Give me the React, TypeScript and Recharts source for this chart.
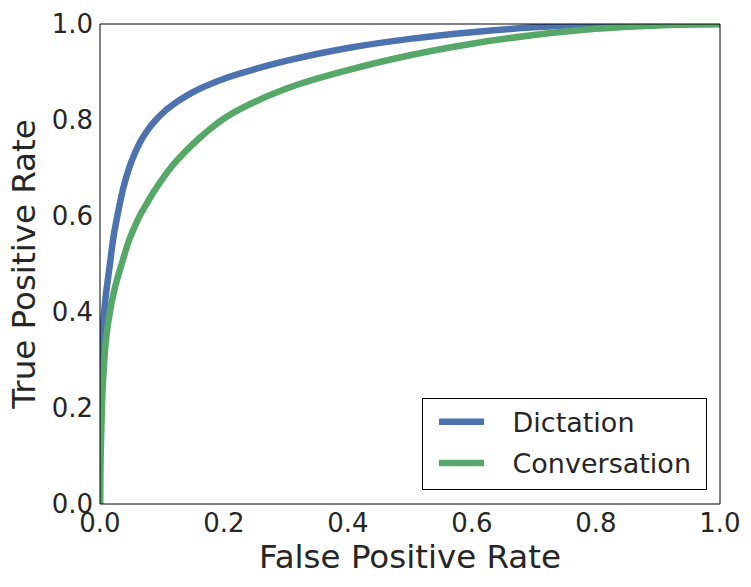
import React from 'react';
import { LineChart, Line, XAxis, YAxis, Legend } from 'recharts';

// ROC points
const dictationFpr = [0, 0.0001, 0.002, 0.005, 0.009, 0.016, 0.021, 0.028, 0.037, 0.047, 0.056, 0.066, 0.078, 0.09, 0.105, 0.12, 0.15, 0.2, 0.25, 0.3, 0.4, 0.5, 0.6, 0.7, 0.8, 0.9, 1.0];
const dictationTpr = [0, 0.28, 0.34, 0.38, 0.43, 0.5, 0.55, 0.6, 0.655, 0.7, 0.73, 0.757, 0.781, 0.8, 0.819, 0.834, 0.858, 0.886, 0.906, 0.923, 0.95, 0.969, 0.983, 0.993, 0.999, 1.0, 1.0];

const conversationFpr = [0, 0.0003, 0.001, 0.003, 0.007, 0.016, 0.024, 0.035, 0.047, 0.055, 0.062, 0.075, 0.085, 0.1, 0.115, 0.13, 0.16, 0.18, 0.2, 0.225, 0.25, 0.3, 0.4, 0.5, 0.6, 0.7, 0.8, 0.9, 1.0];
const conversationTpr = [0, 0.05, 0.1, 0.2, 0.3, 0.4, 0.45, 0.5, 0.55, 0.575, 0.595, 0.625, 0.647, 0.676, 0.702, 0.724, 0.762, 0.784, 0.803, 0.822, 0.838, 0.865, 0.904, 0.935, 0.959, 0.977, 0.99, 0.997, 1.0];

const seriesNames = ['Dictation', 'Conversation'];
const axisTicks = [0, 0.2, 0.4, 0.6, 0.8, 1.0];

const dictation = dictationFpr.map((fpr, i) => ({ fpr, tpr: dictationTpr[i] }));
const conversation = conversationFpr.map((fpr, i) => ({ fpr, tpr: conversationTpr[i] }));

const BLUE = '#4C72B0';
const GREEN = '#55A868';
const TEXT = '#262626';

const fmt = (v: number) => v.toFixed(1);

const renderLegend = ({ payload }: any) => {
  const items = [...(payload || [])].sort((a: any, b: any) => seriesNames.indexOf(a.value) - seriesNames.indexOf(b.value));
  return (
    <div style={{ width: 285, height: 92, boxSizing: 'border-box', border: '1px solid #000', background: '#fff' }}>
      <svg width={283} height={90} style={{ display: 'block' }}>
        {items.map((entry: any, i: number) => (
          <g key={entry.value}>
            <line x1={16} x2={61} y1={22.7 + i * 41.3} y2={22.7 + i * 41.3} stroke={entry.color} strokeWidth={6.5} />
            <text x={89.5} y={32.7 + i * 41} fontSize={27} fill={TEXT}>{entry.value}</text>
          </g>
        ))}
      </svg>
    </div>
  );
};

const App: React.FC = () => {
  return (
    <div style={{ fontFamily: '"DejaVu Sans", sans-serif' }}>
      <LineChart width={735} height={571} margin={{ top: 16, right: 23, bottom: 5, left: 4 }}>
        <XAxis
          xAxisId="main"
          type="number"
          dataKey="fpr"
          domain={[0, 1]}
          ticks={axisTicks}
          allowDataOverflow
          tickFormatter={fmt}
          tickLine={false}
          tickSize={0}
          tickMargin={9.5}
          height={70}
          axisLine={{ stroke: '#000' }}
          tick={{ fontSize: 26, fill: TEXT }}
          label={{ value: 'False Positive Rate', position: 'insideBottom', offset: 6, fontSize: 32.5, fill: TEXT }}
        />
        <XAxis xAxisId="bottomTicks" orientation="bottom" mirror type="number" domain={[0, 1]} ticks={axisTicks} allowDataOverflow tick={false} axisLine={false} tickLine={{ stroke: '#000' }} tickSize={5} />
        <XAxis xAxisId="top" orientation="top" mirror type="number" domain={[0, 1]} ticks={axisTicks} allowDataOverflow tick={false} axisLine={{ stroke: '#000' }} tickLine={{ stroke: '#000' }} tickSize={5} />
        <YAxis
          yAxisId="main"
          type="number"
          dataKey="tpr"
          domain={[0, 1]}
          ticks={axisTicks}
          allowDataOverflow
          tickFormatter={fmt}
          tickLine={false}
          tickSize={0}
          tickMargin={7}
          width={88}
          axisLine={{ stroke: '#000' }}
          tick={{ fontSize: 26, fill: TEXT }}
          label={{ value: 'True Positive Rate', angle: -90, position: 'insideLeft', offset: 11, fontSize: 32.5, fill: TEXT, style: { textAnchor: 'middle' } }}
        />
        <YAxis yAxisId="leftTicks" orientation="left" mirror type="number" domain={[0, 1]} ticks={axisTicks} allowDataOverflow tick={false} axisLine={false} tickLine={{ stroke: '#000' }} tickSize={5} />
        <YAxis yAxisId="right" orientation="right" mirror type="number" domain={[0, 1]} ticks={axisTicks} allowDataOverflow tick={false} axisLine={{ stroke: '#000' }} tickLine={{ stroke: '#000' }} tickSize={5} />
        <Line xAxisId="main" yAxisId="main" data={dictation} dataKey="tpr" name={seriesNames[0]} type="monotone" stroke={BLUE} strokeWidth={6.5} dot={false} activeDot={false} isAnimationActive={false} />
        <Line xAxisId="main" yAxisId="main" data={conversation} dataKey="tpr" name={seriesNames[1]} type="monotone" stroke={GREEN} strokeWidth={6.5} dot={false} activeDot={false} isAnimationActive={false} />
        <Legend layout="horizontal" verticalAlign="middle" align="center" wrapperStyle={{ left: 414, top: 390, width: 285, height: 92 }} content={renderLegend} />
      </LineChart>
    </div>
  );
};

export default App;
